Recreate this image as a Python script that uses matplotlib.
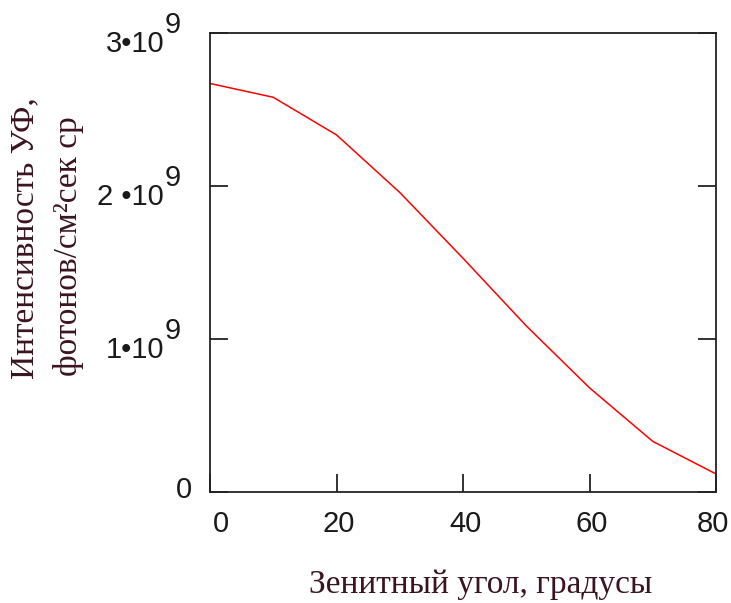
import matplotlib
matplotlib.use("Agg")
import matplotlib.pyplot as plt

# Zenith angle (degrees) and UV intensity (photons / cm^2 s sr)
angle_deg = [0, 10, 20, 30, 40, 50, 60, 70, 80]
intensity = [2.67e9, 2.58e9, 2.334e9, 1.958e9, 1.528e9, 1.086e9, 0.681e9, 0.331e9, 0.118e9]

x_ticks = [0, 20, 40, 60, 80]
x_tick_labels = ["0", "20", "40", "60", "80"]
y_ticks = [0, 1e9, 2e9, 3e9]
y_tick_mantissa = ["0", "1•10", "2 •10", "3•10"]
y_tick_exponent = ["", "9", "9", "9"]

x_label = "Зенитный угол, градусы"
y_label_1 = "Интенсивность УФ,"
y_label_2 = "фотонов/см²сек ср"

W, H = 731, 603
fig = plt.figure(figsize=(W / 100, H / 100), dpi=100)
ax = fig.add_axes([210 / W, (H - 492) / H, 506 / W, 459 / H])

ax.plot(angle_deg, intensity, color="#ff0000", lw=1.1)
ax.set_xlim(0, 80)
ax.set_ylim(0, 3e9)

for s in ax.spines.values():
    s.set_linewidth(1.3)
    s.set_color("#222222")

ax.set_xticks(x_ticks)
ax.set_yticks(y_ticks)
ax.set_xticklabels([])
ax.set_yticklabels([])
ax.tick_params(axis="both", direction="in", length=13, width=1.3, color="#222222")
ax.tick_params(axis="y", left=True, right=True)
ax.tick_params(axis="x", bottom=True, top=False)

num_font = dict(family="Liberation Sans", fontsize=21, color="#1a1a1a")

# y tick labels: mantissa with a full-size exponent raised beside it
for val, man, exp in zip(y_ticks, y_tick_mantissa, y_tick_exponent):
    if exp:
        ax.annotate(man, xy=(0, val), xycoords=("axes fraction", "data"),
                    xytext=(-46, -11), textcoords="offset pixels",
                    ha="right", va="center", annotation_clip=False, **num_font)
        ax.annotate(exp, xy=(0, val), xycoords=("axes fraction", "data"),
                    xytext=(-45, 8), textcoords="offset pixels",
                    ha="left", va="center", annotation_clip=False, **num_font)
    else:
        ax.annotate(man, xy=(0, val), xycoords=("axes fraction", "data"),
                    xytext=(-18, 2), textcoords="offset pixels",
                    ha="right", va="center", annotation_clip=False, **num_font)

# x tick labels
for val, lab in zip(x_ticks, x_tick_labels):
    dx = 11 if val == x_ticks[0] else (-3 if val == x_ticks[-1] else 2)
    ax.annotate(lab, xy=(val, 0), xycoords=("data", "axes fraction"),
                xytext=(dx, -32), textcoords="offset pixels",
                ha="center", va="center", annotation_clip=False, **num_font)

label_font = dict(family="Liberation Serif", fontsize=24, color="#3a1420")
fig.text(481 / W, 1 - 585 / H, x_label, ha="center", va="center", **label_font)
fig.text(25 / W, 1 - 238 / H, y_label_1, ha="center", va="center", rotation=90, **label_font)
fig.text(68 / W, 1 - 246 / H, y_label_2, ha="center", va="center", rotation=90, **label_font)

fig.savefig("out.png", dpi=100)
